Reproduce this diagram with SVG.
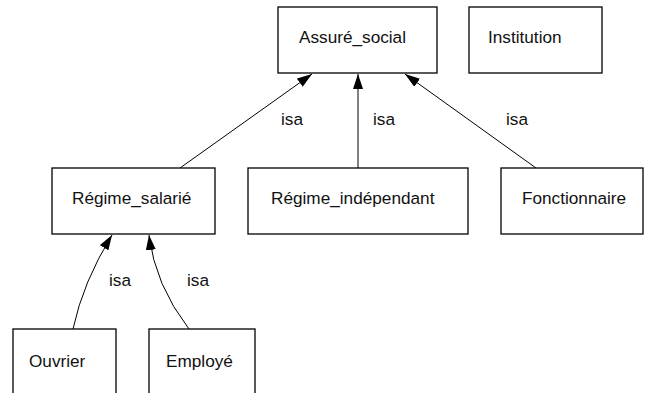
<svg xmlns="http://www.w3.org/2000/svg" width="656" height="393" viewBox="0 0 656 393">
<style>
.box{fill:#fff;stroke:#000;stroke-width:1.3}
.lbl{font-family:"Liberation Sans",Arial,sans-serif;font-size:17.2px;fill:#111}
.edge{fill:none;stroke:#000;stroke-width:1}
</style>
<defs>
<marker id="arr" markerWidth="16" markerHeight="11" refX="15" refY="5" orient="auto" markerUnits="userSpaceOnUse">
<path d="M0,0 L15,5 L0,10 Z" fill="#000"/>
</marker>
</defs>
<rect width="656" height="393" fill="#fff"/>
<g id="connectors">
<line class="edge" x1="180" y1="168" x2="312" y2="74" marker-end="url(#arr)"/>
<line class="edge" x1="358" y1="168" x2="358" y2="74" marker-end="url(#arr)"/>
<line class="edge" x1="536" y1="168" x2="405" y2="74" marker-end="url(#arr)"/>
<path class="edge" d="M73,329 Q83,282 112,235" marker-end="url(#arr)"/>
<path class="edge" d="M189,329 Q155,285 149,235" marker-end="url(#arr)"/>
<text class="lbl" x="281" y="125">isa</text>
<text class="lbl" x="373" y="125">isa</text>
<text class="lbl" x="506" y="125">isa</text>
<text class="lbl" x="109" y="286">isa</text>
<text class="lbl" x="187" y="286">isa</text>
</g>
<g id="assure_social"><rect class="box" x="278" y="7" width="159" height="66"/><text class="lbl" x="299" y="43">Assuré_social</text></g>
<g id="institution"><rect class="box" x="469" y="7" width="133" height="66"/><text class="lbl" x="488" y="43">Institution</text></g>
<g id="regime_salarie"><rect class="box" x="52" y="168" width="163" height="66"/><text class="lbl" x="72" y="204">Régime_salarié</text></g>
<g id="regime_independant"><rect class="box" x="248" y="168" width="220" height="66"/><text class="lbl" x="271" y="204">Régime_indépendant</text></g>
<g id="fonctionnaire"><rect class="box" x="501" y="168" width="142" height="66"/><text class="lbl" x="522" y="204">Fonctionnaire</text></g>
<g id="ouvrier"><rect class="box" x="13" y="329" width="103" height="80"/><text class="lbl" x="29" y="367">Ouvrier</text></g>
<g id="employe"><rect class="box" x="149" y="329" width="106" height="80"/><text class="lbl" x="166" y="367">Employé</text></g>
</svg>
